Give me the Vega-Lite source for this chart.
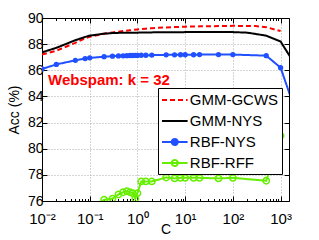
{
  "$schema": "https://vega.github.io/schema/vega-lite/v6.json",
  "width": 247,
  "height": 183,
  "autosize": {"type": "none"},
  "padding": {"left": 42, "top": 18, "right": 30, "bottom": 39},
  "background": "white",
  "config": {
    "font": "Liberation Sans",
    "view": {"stroke": null},
    "axis": {
      "domainColor": "black",
      "tickColor": "black",
      "labelColor": "black",
      "titleColor": "black",
      "labelFont": "Liberation Sans",
      "titleFont": "Liberation Sans",
      "labelFontSize": 14,
      "titleFontSize": 14,
      "titleFontWeight": "normal"
    }
  },
  "data": {
    "values": [
      {"C": 0.01, "Acc": 87.2, "s": "GMM-GCWS"},
      {"C": 0.02, "Acc": 87.5, "s": "GMM-GCWS"},
      {"C": 0.05, "Acc": 88.1, "s": "GMM-GCWS"},
      {"C": 0.08, "Acc": 88.45, "s": "GMM-GCWS"},
      {"C": 0.1, "Acc": 88.57, "s": "GMM-GCWS"},
      {"C": 0.2, "Acc": 88.8, "s": "GMM-GCWS"},
      {"C": 0.3, "Acc": 88.9, "s": "GMM-GCWS"},
      {"C": 0.4, "Acc": 88.95, "s": "GMM-GCWS"},
      {"C": 0.5, "Acc": 89.0, "s": "GMM-GCWS"},
      {"C": 0.7, "Acc": 89.06, "s": "GMM-GCWS"},
      {"C": 1, "Acc": 89.12, "s": "GMM-GCWS"},
      {"C": 1.5, "Acc": 89.18, "s": "GMM-GCWS"},
      {"C": 2, "Acc": 89.22, "s": "GMM-GCWS"},
      {"C": 4, "Acc": 89.28, "s": "GMM-GCWS"},
      {"C": 10, "Acc": 89.34, "s": "GMM-GCWS"},
      {"C": 20, "Acc": 89.36, "s": "GMM-GCWS"},
      {"C": 50, "Acc": 89.38, "s": "GMM-GCWS"},
      {"C": 100, "Acc": 89.4, "s": "GMM-GCWS"},
      {"C": 300, "Acc": 89.38, "s": "GMM-GCWS"},
      {"C": 500, "Acc": 89.3, "s": "GMM-GCWS"},
      {"C": 1000, "Acc": 89.0, "s": "GMM-GCWS"},

      {"C": 0.01, "Acc": 87.37, "s": "GMM-NYS"},
      {"C": 0.02, "Acc": 87.72, "s": "GMM-NYS"},
      {"C": 0.05, "Acc": 88.3, "s": "GMM-NYS"},
      {"C": 0.08, "Acc": 88.55, "s": "GMM-NYS"},
      {"C": 0.1, "Acc": 88.65, "s": "GMM-NYS"},
      {"C": 0.2, "Acc": 88.8, "s": "GMM-NYS"},
      {"C": 0.3, "Acc": 88.85, "s": "GMM-NYS"},
      {"C": 0.5, "Acc": 88.87, "s": "GMM-NYS"},
      {"C": 1, "Acc": 88.88, "s": "GMM-NYS"},
      {"C": 2, "Acc": 88.9, "s": "GMM-NYS"},
      {"C": 10, "Acc": 88.92, "s": "GMM-NYS"},
      {"C": 100, "Acc": 88.92, "s": "GMM-NYS"},
      {"C": 200, "Acc": 88.88, "s": "GMM-NYS"},
      {"C": 500, "Acc": 88.65, "s": "GMM-NYS"},
      {"C": 1000, "Acc": 88.2, "s": "GMM-NYS"},
      {"C": 2000, "Acc": 86.45, "s": "GMM-NYS"},

      {"C": 0.01, "Acc": 86.1, "s": "RBF-NYS"},
      {"C": 0.02, "Acc": 86.45, "s": "RBF-NYS"},
      {"C": 0.05, "Acc": 86.76, "s": "RBF-NYS"},
      {"C": 0.08, "Acc": 86.9, "s": "RBF-NYS"},
      {"C": 0.1, "Acc": 86.95, "s": "RBF-NYS"},
      {"C": 0.2, "Acc": 87.04, "s": "RBF-NYS"},
      {"C": 0.3, "Acc": 87.08, "s": "RBF-NYS"},
      {"C": 0.4, "Acc": 87.1, "s": "RBF-NYS"},
      {"C": 0.5, "Acc": 87.11, "s": "RBF-NYS"},
      {"C": 0.6, "Acc": 87.12, "s": "RBF-NYS"},
      {"C": 0.7, "Acc": 87.13, "s": "RBF-NYS"},
      {"C": 0.8, "Acc": 87.13, "s": "RBF-NYS"},
      {"C": 0.9, "Acc": 87.14, "s": "RBF-NYS"},
      {"C": 1, "Acc": 87.14, "s": "RBF-NYS"},
      {"C": 1.2, "Acc": 87.15, "s": "RBF-NYS"},
      {"C": 1.5, "Acc": 87.15, "s": "RBF-NYS"},
      {"C": 2, "Acc": 87.16, "s": "RBF-NYS"},
      {"C": 4, "Acc": 87.18, "s": "RBF-NYS"},
      {"C": 6, "Acc": 87.18, "s": "RBF-NYS"},
      {"C": 8, "Acc": 87.19, "s": "RBF-NYS"},
      {"C": 10, "Acc": 87.19, "s": "RBF-NYS"},
      {"C": 15, "Acc": 87.19, "s": "RBF-NYS"},
      {"C": 20, "Acc": 87.2, "s": "RBF-NYS"},
      {"C": 50, "Acc": 87.2, "s": "RBF-NYS"},
      {"C": 100, "Acc": 87.2, "s": "RBF-NYS"},
      {"C": 500, "Acc": 87.12, "s": "RBF-NYS"},
      {"C": 1000, "Acc": 86.2, "s": "RBF-NYS"},
      {"C": 2000, "Acc": 83.0, "s": "RBF-NYS"},

      {"C": 0.1, "Acc": 75.2, "s": "RBF-RFF"},
      {"C": 0.2, "Acc": 76.1, "s": "RBF-RFF"},
      {"C": 0.3, "Acc": 76.18, "s": "RBF-RFF"},
      {"C": 0.4, "Acc": 76.5, "s": "RBF-RFF"},
      {"C": 0.5, "Acc": 76.67, "s": "RBF-RFF"},
      {"C": 0.6, "Acc": 76.75, "s": "RBF-RFF"},
      {"C": 0.7, "Acc": 76.67, "s": "RBF-RFF"},
      {"C": 0.8, "Acc": 76.6, "s": "RBF-RFF"},
      {"C": 0.9, "Acc": 76.18, "s": "RBF-RFF"},
      {"C": 1, "Acc": 76.6, "s": "RBF-RFF"},
      {"C": 1.2, "Acc": 77.5, "s": "RBF-RFF"},
      {"C": 1.5, "Acc": 77.5, "s": "RBF-RFF"},
      {"C": 2, "Acc": 77.5, "s": "RBF-RFF"},
      {"C": 4, "Acc": 77.8, "s": "RBF-RFF"},
      {"C": 6, "Acc": 77.73, "s": "RBF-RFF"},
      {"C": 8, "Acc": 77.77, "s": "RBF-RFF"},
      {"C": 10, "Acc": 77.77, "s": "RBF-RFF"},
      {"C": 15, "Acc": 77.77, "s": "RBF-RFF"},
      {"C": 20, "Acc": 77.77, "s": "RBF-RFF"},
      {"C": 50, "Acc": 77.73, "s": "RBF-RFF"},
      {"C": 100, "Acc": 77.77, "s": "RBF-RFF"},
      {"C": 500, "Acc": 77.55, "s": "RBF-RFF"},
      {"C": 1000, "Acc": 81.0, "s": "RBF-RFF"}
    ]
  },
  "layer": [
    {
      "mark": {"type": "line", "strokeWidth": 2, "clip": true},
      "encoding": {
        "x": {
          "field": "C", "type": "quantitative",
          "scale": {"type": "log", "domain": [0.01, 1500], "nice": false},
          "axis": {
            "orient": "bottom",
            "values": [0.01,0.02,0.03,0.04,0.05,0.06,0.07,0.08,0.09,0.1,0.2,0.3,0.4,0.5,0.6,0.7,0.8,0.9,1,2,3,4,5,6,7,8,9,10,20,30,40,50,60,70,80,90,100,200,300,400,500,600,700,800,900,1000],
            "labelExpr": "abs(log(datum.value)/LN10 - round(log(datum.value)/LN10)) < 0.001 ? '10' + ['⁻²','⁻¹','⁰','¹','²','³'][round(log(datum.value)/LN10)+2] : ''",
            "tickSize": {"condition": {"test": "abs(log(datum.value)/LN10 - round(log(datum.value)/LN10)) < 0.001", "value": -5}, "value": -2.5},
            "grid": true,
            "gridDash": [1, 2],
            "gridColor": "#aaaaaa",
            "gridOpacity": {"condition": {"test": "abs(log(datum.value)/LN10 - round(log(datum.value)/LN10)) < 0.001", "value": 1}, "value": 0},
            "labelFlush": false,
            "labelOverlap": false,
            "labelFontSize": 15,
            "labelPadding": 15,
            "title": "C",
            "titlePadding": -6
          }
        },
        "y": {
          "field": "Acc", "type": "quantitative",
          "scale": {"domain": [76, 90], "nice": false, "zero": false},
          "axis": {
            "orient": "left",
            "values": [76, 78, 80, 82, 84, 86, 88, 90],
            "tickSize": -5,
            "grid": true,
            "gridDash": [1, 2],
            "gridColor": "#aaaaaa",
            "labelPadding": 4,
            "title": "Acc (%)",
            "titlePadding": 6
          }
        },
        "color": {
          "field": "s", "type": "nominal",
          "scale": {"domain": ["GMM-GCWS", "GMM-NYS", "RBF-NYS", "RBF-RFF"], "range": ["#ff0000", "#000000", "#2050ff", "#66ee00"]},
          "legend": {
            "orient": "none",
            "legendX": 116,
            "legendY": 70,
            "title": null,
            "fillColor": "white",
            "strokeColor": "black",
            "padding": 3,
            "labelFontSize": 15,
            "labelFont": "Liberation Sans",
            "labelColor": "black",
            "labelOffset": 6,
            "symbolSize": 256,
            "symbolOffset": 4.8,
            "symbolStrokeWidth": 2,
            "rowPadding": 4,
            "encode": {
              "symbols": {
                "update": {
                  "shape": {"signal": "(datum.value === 'RBF-NYS' || datum.value === 'RBF-RFF') ? 'M-1.6,0H1.6M0.38,0A0.38,0.38,0,1,1,-0.38,0A0.38,0.38,0,1,1,0.38,0Z' : 'M-1.6,0H1.6'"},
                  "fill": {"signal": "datum.value === 'RBF-NYS' ? '#2050ff' : (datum.value === 'RBF-RFF' ? 'white' : 'transparent')"}
                }
              }
            }
          }
        },
        "strokeDash": {
          "field": "s", "type": "nominal",
          "scale": {"domain": ["GMM-GCWS", "GMM-NYS", "RBF-NYS", "RBF-RFF"], "range": [[5, 3], [1, 0], [1, 0], [1, 0]]}
        }
      }
    },
    {
      "transform": [{"filter": "datum.s === 'RBF-NYS'"}],
      "mark": {"type": "point", "filled": true, "color": "#2050ff", "size": 28, "opacity": 1, "clip": true},
      "encoding": {
        "x": {
          "field": "C", "type": "quantitative",
          "axis": {"orient": "top", "values": [0.01,0.02,0.03,0.04,0.05,0.06,0.07,0.08,0.09,0.1,0.2,0.3,0.4,0.5,0.6,0.7,0.8,0.9,1,2,3,4,5,6,7,8,9,10,20,30,40,50,60,70,80,90,100,200,300,400,500,600,700,800,900,1000],
            "labels": false, "grid": false, "title": null,
            "tickSize": {"condition": {"test": "abs(log(datum.value)/LN10 - round(log(datum.value)/LN10)) < 0.001", "value": -5}, "value": -2.5}}
        },
        "y": {
          "field": "Acc", "type": "quantitative",
          "axis": {"orient": "right", "values": [76, 78, 80, 82, 84, 86, 88, 90], "labels": false, "grid": false, "title": null, "tickSize": -5}
        }
      }
    },
    {
      "transform": [{"filter": "datum.s === 'RBF-RFF'"}],
      "mark": {"type": "point", "filled": false, "color": "#66ee00", "size": 40, "strokeWidth": 1.5, "opacity": 1, "clip": true},
      "encoding": {
        "x": {"field": "C", "type": "quantitative", "axis": null},
        "y": {"field": "Acc", "type": "quantitative", "axis": null}
      }
    },
    {
      "data": {"values": [{"label": "Webspam: k = 32"}]},
      "mark": {"type": "text", "align": "left", "baseline": "middle", "font": "Liberation Sans", "fontSize": 15, "fontWeight": "bold", "color": "#ff0000"},
      "encoding": {
        "x": {"datum": 0.01336, "type": "quantitative", "axis": null},
        "y": {"datum": 85.25, "type": "quantitative", "axis": null},
        "text": {"field": "label"}
      }
    }
  ],
  "resolve": {"axis": {"x": "independent", "y": "independent"}}
}
